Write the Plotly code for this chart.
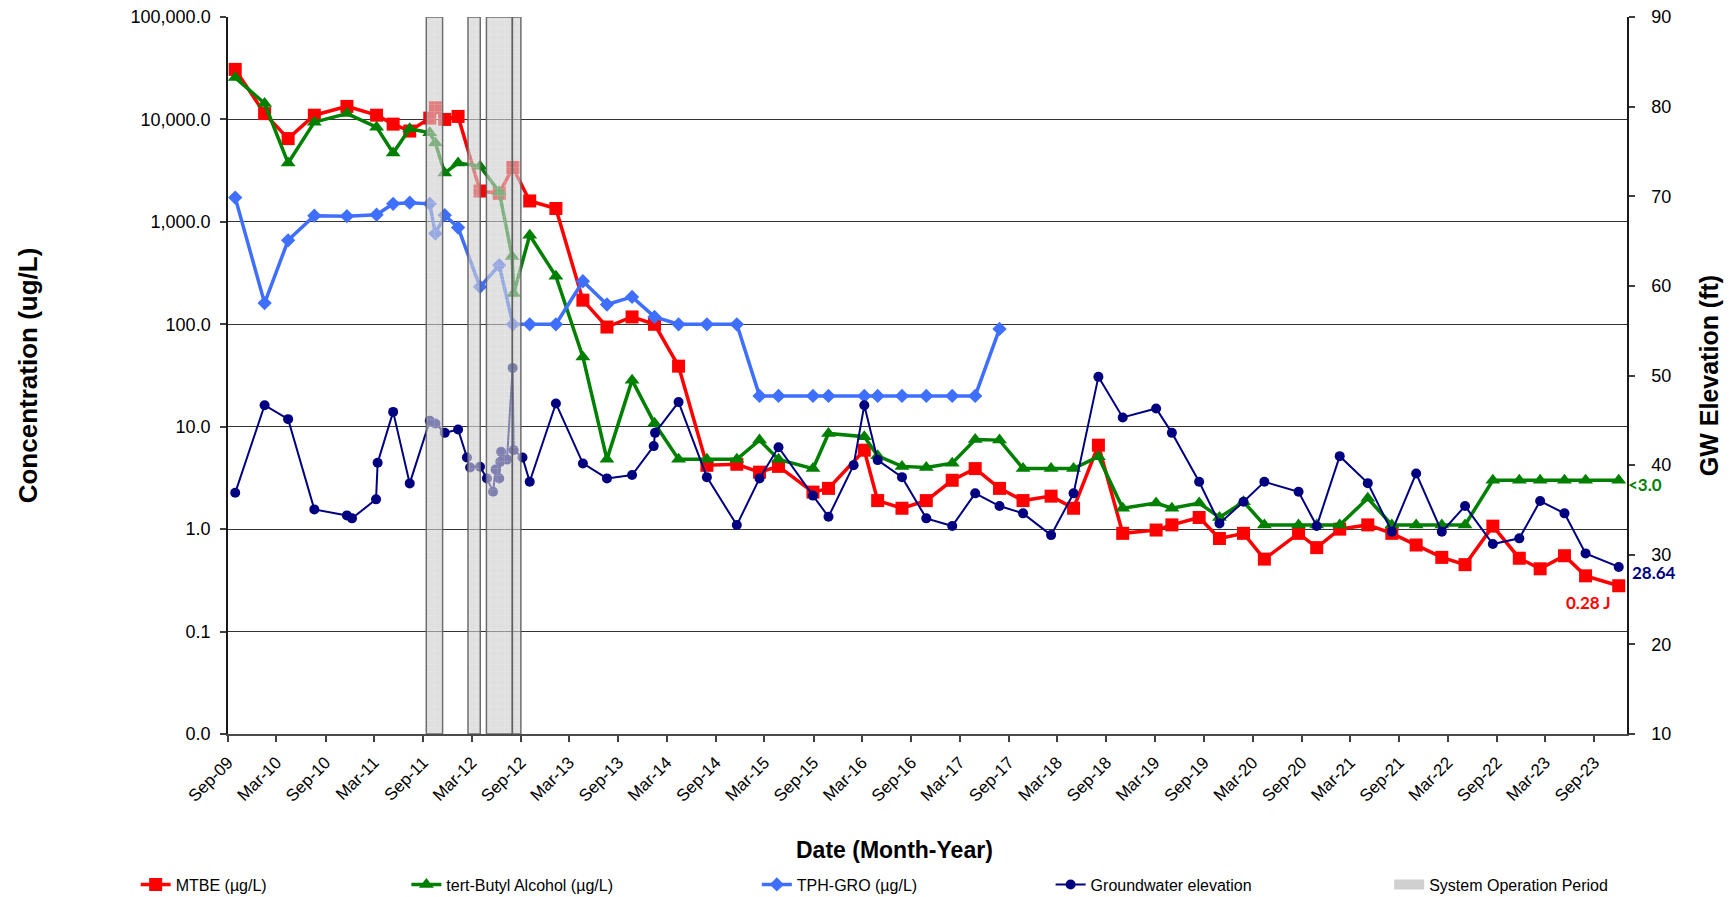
import math
import plotly.graph_objects as go

# ---------------- data ----------------
conc_dates = [
    "2009-09-28", "2010-01-16", "2010-04-14", "2010-07-21", "2010-11-20", "2011-03-11",
    "2011-05-12", "2011-07-13", "2011-09-26", "2011-10-17", "2011-11-21", "2012-01-10",
    "2012-04-01", "2012-06-12", "2012-08-02", "2012-10-04", "2013-01-10", "2013-04-21",
    "2013-07-20", "2013-10-22", "2014-01-14", "2014-04-14", "2014-07-29", "2014-11-18",
    "2015-02-11", "2015-04-23", "2015-08-30", "2015-10-27", "2016-03-09", "2016-04-28",
    "2016-07-28", "2016-10-27", "2017-02-01", "2017-04-28", "2017-07-28", "2017-10-24",
    "2018-02-06", "2018-05-01", "2018-08-02", "2018-11-01", "2019-03-06", "2019-05-04",
    "2019-08-14", "2019-10-29", "2020-01-27", "2020-04-14", "2020-08-20", "2020-10-27",
    "2021-01-21", "2021-05-06", "2021-08-04", "2021-11-03", "2022-02-07", "2022-05-05",
    "2022-08-17", "2022-11-24", "2023-02-10", "2023-05-12", "2023-07-30", "2023-12-01",
]

mtbe = [
    30800, 11400, 6500, 11000, 13400, 11000, 9000, 7700, 10300, 13000, 10000, 10700,
    2000, 1900, 3400, 1600, 1350, 172, 94, 118, 100, 39, 4.2, 4.3,
    3.6, 4.1, 2.3, 2.5, 5.9, 1.9, 1.6, 1.9, 3.0, 3.9, 2.5, 1.9,
    2.1, 1.6, 6.6, 0.91, 0.98, 1.1, 1.3, 0.81, 0.91, 0.51, 0.91, 0.66,
    1.0, 1.1, 0.91, 0.70, 0.53, 0.45, 1.07, 0.52, 0.41, 0.55, 0.35, 0.28,
]

tba_dates = [
    "2009-09-28", "2010-01-16", "2010-04-14", "2010-07-21", "2010-11-20", "2011-03-11",
    "2011-05-12", "2011-07-13", "2011-09-26", "2011-10-17", "2011-11-21", "2012-01-10",
    "2012-04-01", "2012-06-12", "2012-07-30", "2012-08-05", "2012-10-04", "2013-01-10",
    "2013-04-21", "2013-07-20", "2013-10-22", "2014-01-14", "2014-04-14", "2014-07-29",
    "2014-11-18", "2015-02-11", "2015-04-23", "2015-08-30", "2015-10-27", "2016-03-09",
    "2016-04-28", "2016-07-28", "2016-10-27", "2017-02-01", "2017-04-28", "2017-07-28",
    "2017-10-24", "2018-02-06", "2018-05-01", "2018-08-02", "2018-11-01", "2019-03-06",
    "2019-05-04", "2019-08-14", "2019-10-29", "2020-01-27", "2020-04-14", "2020-08-20",
    "2020-10-27", "2021-01-21", "2021-05-06", "2021-08-04", "2021-11-03", "2022-02-07",
    "2022-05-05", "2022-08-17", "2022-11-24", "2023-02-10", "2023-05-12", "2023-07-30",
    "2023-12-01",
]

tba = [
    25600, 14300, 3750, 9400, 11400, 8400, 4700, 8100, 7400, 5900, 3000, 3750,
    3500, 1960, 460, 200, 740, 295, 48, 4.8, 28.5, 10.8, 4.8, 4.8,
    4.8, 7.4, 4.8, 3.9, 8.6, 8.0, 5.2, 4.1, 4.0, 4.4, 7.5, 7.4,
    3.9, 3.9, 3.9, 5.1, 1.6, 1.8, 1.6, 1.8, 1.3, 1.85, 1.1, 1.1,
    1.1, 1.1, 2.0, 1.1, 1.1, 1.1, 1.1, 3.0, 3.0, 3.0, 3.0, 3.0, 3.0,
]

tph_dates = conc_dates[:35]
tph = [
    1725, 161, 660, 1150, 1135, 1175, 1500, 1540, 1500, 770, 1160, 880,
    232, 377, 100, 100, 100, 263, 156, 185, 118, 100, 100, 100,
    20, 20, 20, 20, 20, 20, 20, 20, 20, 20, 90,
]

gw_dates = [
    "2009-09-28", "2010-01-16", "2010-04-14", "2010-07-21", "2010-11-20", "2010-12-09",
    "2011-03-09", "2011-03-15", "2011-05-12", "2011-07-13", "2011-09-26", "2011-10-17",
    "2011-11-21", "2012-01-10", "2012-02-12", "2012-02-24", "2012-04-01", "2012-04-27",
    "2012-05-20", "2012-05-29", "2012-06-12", "2012-06-16", "2012-06-19", "2012-07-11",
    "2012-08-01", "2012-08-05", "2012-09-07", "2012-10-04", "2013-01-10", "2013-04-21",
    "2013-07-20", "2013-10-22", "2014-01-11", "2014-01-16", "2014-04-14", "2014-07-29",
    "2014-11-18", "2015-02-11", "2015-04-23", "2015-08-30", "2015-10-27", "2016-01-29",
    "2016-03-09", "2016-04-28", "2016-07-28", "2016-10-27", "2017-02-01", "2017-04-28",
    "2017-07-28", "2017-10-24", "2018-02-06", "2018-05-01", "2018-08-02", "2018-11-01",
    "2019-03-06", "2019-05-04", "2019-08-14", "2019-10-29", "2020-01-27", "2020-04-14",
    "2020-08-20", "2020-10-27", "2021-01-21", "2021-05-06", "2021-08-04", "2021-11-03",
    "2022-02-07", "2022-05-05", "2022-08-17", "2022-11-24", "2023-02-10", "2023-05-12",
    "2023-07-30", "2023-12-01",
]

gw = [
    36.91, 46.69, 45.13, 35.06, 34.39, 34.06,
    36.18, 40.26, 45.94, 37.96, 44.94, 44.65,
    43.60, 43.98, 40.86, 39.74, 39.81, 38.52,
    37.02, 39.52, 38.52, 40.37, 41.48, 40.64,
    50.85, 41.67, 40.86, 38.14, 46.88, 40.19,
    38.52, 38.89, 42.12, 43.60, 47.03, 38.66,
    33.31, 38.52, 42.00, 36.60, 34.24, 40.00,
    46.69, 40.56, 38.66, 34.06, 33.20, 36.85,
    35.43, 34.62, 32.19, 36.85, 49.85, 45.32,
    46.32, 43.60, 38.14, 33.50, 35.91, 38.14,
    37.02, 33.20, 41.00, 37.99, 32.58, 39.07,
    32.56, 35.43, 31.19, 31.83, 35.99, 34.62,
    30.15, 28.64,
]

op_start = ["2011-09-13", "2012-02-16", "2012-04-25", "2012-07-31"]
op_end = ["2011-11-13", "2012-04-02", "2012-07-31", "2012-09-01"]

x_tick_vals = [f"{y}-{m:02d}-01" for y in range(2009, 2024) for m in (3, 9)
               if "2009-09-01" <= f"{y}-{m:02d}-01" <= "2023-09-01"]
x_tick_text = ["Sep-09", "Mar-10", "Sep-10", "Mar-11", "Sep-11", "Mar-12", "Sep-12",
               "Mar-13", "Sep-13", "Mar-14", "Sep-14", "Mar-15", "Sep-15", "Mar-16",
               "Sep-16", "Mar-17", "Sep-17", "Mar-18", "Sep-18", "Mar-19", "Sep-19",
               "Mar-20", "Sep-20", "Mar-21", "Sep-21", "Mar-22", "Sep-22", "Mar-23",
               "Sep-23"]
y_tick_vals = [0.01, 0.1, 1, 10, 100, 1000, 10000, 100000]
y_tick_text = ["0.0", "0.1", "1.0", "10.0", "100.0", "1,000.0", "10,000.0", "100,000.0"]
y2_range = [10, 90]

# ---------------- figure ----------------
FONT = "Liberation Sans, Arial, sans-serif"
LBL_FONT = "Lato, Open Sans, sans-serif"
RED, GREEN, BLUE, NAVY = "#ff0000", "#008000", "#3f6fff", "#000080"

fig = go.Figure()

fig.add_trace(go.Scatter(
    x=conc_dates, y=mtbe, name="MTBE (µg/L)", mode="lines+markers",
    line=dict(color=RED, width=3.5), marker=dict(symbol="square", size=13, color=RED),
    legend="legend"))
fig.add_trace(go.Scatter(
    x=tba_dates, y=tba, name="tert-Butyl Alcohol (µg/L)", mode="lines+markers",
    line=dict(color=GREEN, width=3.5), marker=dict(symbol="triangle-up", size=13, color=GREEN),
    legend="legend2"))
fig.add_trace(go.Scatter(
    x=tph_dates, y=tph, name="TPH-GRO (µg/L)", mode="lines+markers",
    line=dict(color=BLUE, width=3.5), marker=dict(symbol="diamond", size=11, color=BLUE),
    legend="legend3"))
fig.add_trace(go.Scatter(
    x=gw_dates, y=gw, name="Groundwater elevation", mode="lines+markers", yaxis="y2",
    line=dict(color=NAVY, width=2), marker=dict(symbol="circle", size=10, color=NAVY),
    legend="legend4"))

band_x, band_y = [], []
for s, e in zip(op_start, op_end):
    band_x += [s, s, e, e, s, None]
    band_y += [y2_range[0], y2_range[1], y2_range[1], y2_range[0], y2_range[0], None]
fig.add_trace(go.Scatter(
    x=band_x, y=band_y, yaxis="y2", name="System Operation Period", mode="lines",
    fill="toself", fillcolor="rgba(205,205,205,0.62)",
    fillpattern=dict(shape="+", size=7, solidity=0.12,
                     bgcolor="rgba(205,205,205,0.62)", fgcolor="rgba(255,255,255,0.55)"),
    line=dict(color="rgba(95,95,95,0.9)", width=1.5),
    hoverinfo="skip", showlegend=False))
# legend entry for the operation periods (grey box)
fig.add_trace(go.Scatter(
    x=[None], y=[None], yaxis="y2", name="System Operation Period", mode="lines",
    line=dict(color="#d0d0d0", width=13), legend="legend5"))

# end-of-series labels
fig.add_annotation(x=conc_dates[-1], y=math.log10(tba[-1]), xref="x", yref="y",
                   text=f"&lt;{tba[-1]:.1f}", showarrow=False, xanchor="left", xshift=7, yshift=-4,
                   font=dict(family=LBL_FONT, size=17, color=GREEN, weight="bold"))
fig.add_annotation(x=gw_dates[-1], y=gw[-1], xref="x", yref="y2",
                   text=f"{gw[-1]:.2f}", showarrow=False, xanchor="left", xshift=11, yshift=-6,
                   font=dict(family=LBL_FONT, size=17, color=NAVY, weight="bold"))
fig.add_annotation(x=conc_dates[-1], y=math.log10(mtbe[-1]), xref="x", yref="y",
                   text=f"{mtbe[-1]:.2f} J", showarrow=False, xanchor="right", xshift=-6, yshift=-17,
                   font=dict(family=LBL_FONT, size=17, color=RED, weight="bold"))
# x axis title (centred on the chart area as in the reference)
fig.add_annotation(x=0.4763, y=-0.1617, xref="paper", yref="paper",
                   text="<b>Date (Month-Year)</b>", showarrow=False,
                   xanchor="center", yanchor="middle",
                   font=dict(family=FONT, size=23, color="black"))

legend_common = dict(orientation="h", y=-0.21, yanchor="middle", xanchor="left",
                     bgcolor="rgba(0,0,0,0)", font=dict(family=FONT, size=16, color="black"),
                     itemwidth=30)
legend_x = [-0.066, 0.1275, 0.378, 0.588, 0.830]

fig.update_layout(
    width=1735, height=897,
    margin=dict(l=228, r=108, t=17, b=163, autoexpand=False),
    paper_bgcolor="white", plot_bgcolor="white",
    font=dict(family=FONT, color="black"),
    showlegend=True,
    legend=dict(x=legend_x[0], **legend_common),
    legend2=dict(x=legend_x[1], **legend_common),
    legend3=dict(x=legend_x[2], **legend_common),
    legend4=dict(x=legend_x[3], **legend_common),
    legend5=dict(x=legend_x[4], **legend_common),
    xaxis=dict(
        type="date", range=["2009-09-01", "2024-01-01"], automargin=False,
        tickmode="array", tickvals=x_tick_vals, ticktext=x_tick_text,
        tickangle=-45, tickfont=dict(family=FONT, size=17, color="black"),
        ticks="outside", ticklen=6, tickcolor="#404040", tickwidth=1.5,
        showgrid=False, showline=True, linecolor="#4a4a4a", linewidth=2,
        zeroline=False, ticklabelstandoff=4,
    ),
    yaxis=dict(
        type="log", range=[-2, 5], automargin=False,
        tickmode="array", tickvals=y_tick_vals, ticktext=y_tick_text,
        tickfont=dict(family=FONT, size=18, color="black"),
        ticks="outside", ticklen=6, tickcolor="#404040", tickwidth=1.5,
        showgrid=True, gridcolor="#333333", gridwidth=1.3,
        showline=True, linecolor="#1a1a1a", linewidth=1.5, zeroline=False,
        ticklabelstandoff=6,
        title=dict(text="<b>Concentration (ug/L)</b>", font=dict(family=FONT, size=26, color="black"),
                   standoff=85),
    ),
    yaxis2=dict(
        overlaying="y", side="right", range=y2_range, dtick=10, tick0=10, automargin=False,
        tickfont=dict(family=FONT, size=18, color="black"),
        ticks="outside", ticklen=6, tickcolor="#404040", tickwidth=1.5,
        showgrid=False, showline=True, linecolor="#1a1a1a", linewidth=1.5, zeroline=False,
        ticklabelstandoff=13,
        title=dict(text="<b>GW Elevation (ft)</b>", font=dict(family=FONT, size=25, color="black"),
                   standoff=30),
    ),
)

fig.write_html("out.html", config={"displayModeBar": False},
               post_script="document.body.style.margin='0';document.body.style.overflow='hidden';")
